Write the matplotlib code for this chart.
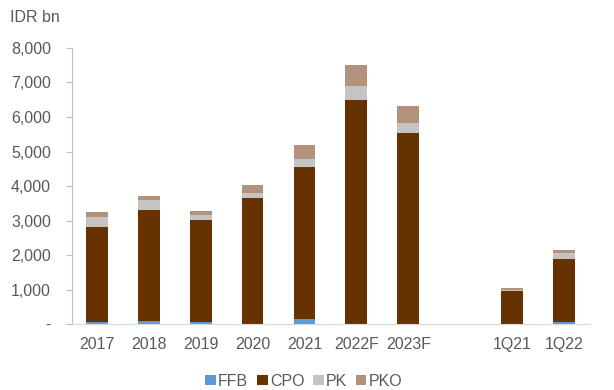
import numpy as np
import matplotlib
matplotlib.use("Agg")
from matplotlib import pyplot as plt

plt.rcParams['font.family'] = ['Liberation Sans', 'DejaVu Sans']

# revenue breakdown, IDR bn ("" is a spacer slot)
periods = ['2017', '2018', '2019', '2020', '2021', '2022F', '2023F', '', '1Q21', '1Q22']
ffb = [60, 90, 70, 10, 150, 0, 0, 0, 0, 50]
cpo = [2750, 3205, 2945, 3640, 4390, 6500, 5540, 0, 950, 1840]
pk = [280, 300, 135, 135, 250, 410, 300, 0, 40, 175]
pko = [145, 115, 125, 250, 395, 590, 470, 0, 70, 80]

series = [('FFB', ffb, '#5B9BD5'), ('CPO', cpo, '#663300'),
          ('PK', pk, '#C4C4C4'), ('PKO', pko, '#B3917A')]

fig = plt.figure(figsize=(6.14, 3.9), dpi=100)
ax = fig.add_axes([0.117, 0.169, 0.844, 0.708])

x = np.arange(len(periods))
bottom = np.zeros(len(periods))
for name, vals, col in series:
    vals = np.array(vals, dtype=float)
    ax.bar(x, vals, 0.42, bottom=bottom, color=col, label=name)
    bottom += vals

grey = '#595959'
fs = 11.5
ax.set_xlim(-0.48, 9.5)
ax.set_ylim(0, 8000)
ax.set_yticks(range(0, 8001, 1000))
ax.set_yticklabels(['-'] + [f'{v:,}' for v in range(1000, 8001, 1000)])
ax.set_xticks(x)
ax.set_xticklabels(periods)
ax.tick_params(axis='y', colors='#BFBFBF', labelcolor=grey, labelsize=fs, length=4, width=0.8, pad=11)
ax.tick_params(axis='x', length=0, labelcolor=grey, labelsize=fs, pad=9)

for s in ['top', 'right']:
    ax.spines[s].set_visible(False)
ax.spines['left'].set_color('#BFBFBF')
ax.spines['bottom'].set_color('#D9D9D9')
ax.spines['left'].set_linewidth(0.8)
ax.spines['bottom'].set_linewidth(0.8)

fig.text(0.016, 0.955, 'IDR bn', color=grey, fontsize=fs, va='center')

fig.legend(loc='center', bbox_to_anchor=(0.495, 0.023), ncol=4, frameon=False,
           fontsize=fs, labelcolor=grey, handlelength=0.65, handleheight=0.65,
           handletextpad=0.15, columnspacing=0.55, borderaxespad=0)

fig.savefig('out.png', dpi=100)
